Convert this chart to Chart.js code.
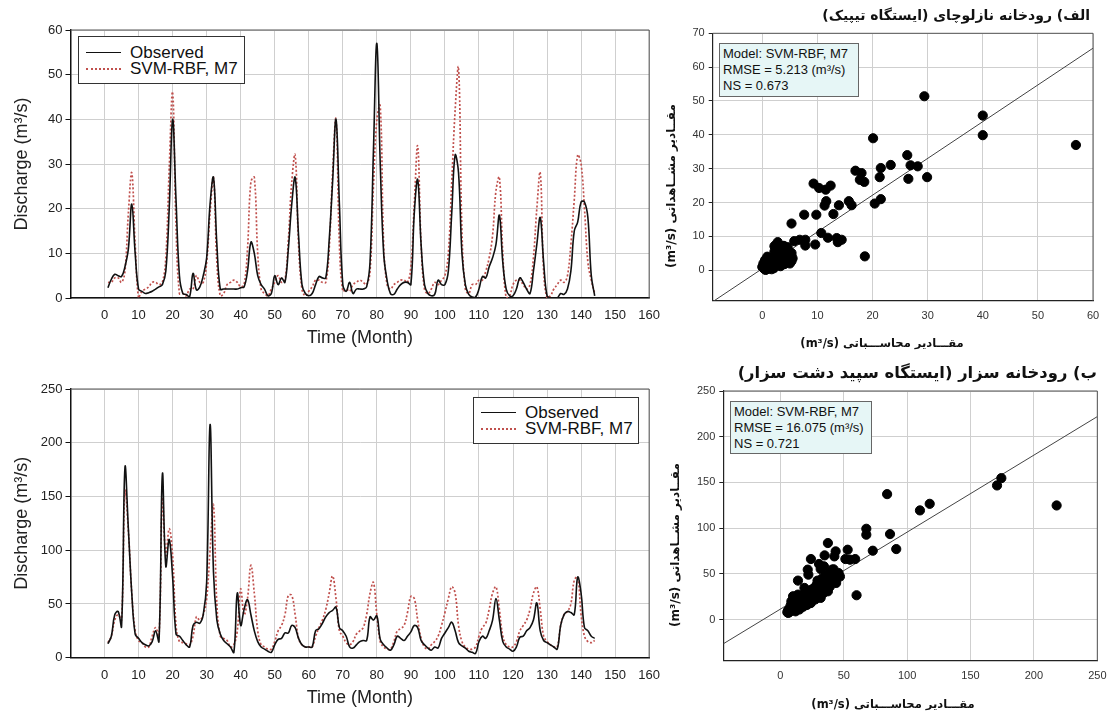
<!DOCTYPE html>
<html>
<head>
<meta charset="utf-8">
<script src="https://cdn.jsdelivr.net/npm/chart.js@4.4.1/dist/chart.umd.min.js"></script>
<style>
  body { margin: 0; background: #fff; width: 1115px; height: 713px; position: relative; overflow: hidden;
         font-family: "Liberation Sans", Arial, sans-serif; color: #111; }
  canvas { position: absolute; }
  .legend { position: absolute; background: #fff; border: 1px solid #333; font-size: 17px; }
  .legend .txt { position: absolute; left: 51px; white-space: nowrap; line-height: 18px; transform: translateY(-50%); }
  .legend .sw { position: absolute; left: 7px; width: 35px; }
  .sw.obs { border-top: 1.5px solid #111; }
  .sw.svm { border-top: 2px dotted #c0504d; }
  .note { position: absolute; background: #e6f6f6; border: 1px solid #666; font-size: 13px; line-height: 16px;
          padding: 2px 0 0 3px; box-sizing: border-box; white-space: nowrap; }
  .fa { position: absolute; font-family: "DejaVu Sans", sans-serif; font-weight: bold; white-space: nowrap; direction: rtl; }
  .fa.rot { transform: translate(-50%, -50%) rotate(-90deg); }
  .fa.ctr { transform: translate(-50%, -50%); }
</style>
</head>
<body>
<canvas id="nazTime" width="670" height="350" style="left:0;top:0"></canvas>
<canvas id="sezTime" width="670" height="353" style="left:0;top:360px"></canvas>
<canvas id="nazScatter" width="455" height="360" style="left:660px;top:0"></canvas>
<canvas id="sezScatter" width="455" height="358" style="left:660px;top:355px"></canvas>

<div class="legend" style="left:78px;top:36px;width:165px;height:46px">
  <div class="sw obs" style="top:15px"></div><div class="txt" style="top:16px">Observed</div>
  <div class="sw svm" style="top:31px"></div><div class="txt" style="top:32px">SVM-RBF, M7</div>
</div>
<div class="legend" style="left:473px;top:397px;width:164px;height:45px">
  <div class="sw obs" style="top:14px"></div><div class="txt" style="top:15px">Observed</div>
  <div class="sw svm" style="top:30px"></div><div class="txt" style="top:31px">SVM-RBF, M7</div>
</div>

<div class="note" style="left:719px;top:43px;width:140px;height:54px">Model: SVM-RBF, M7<br>RMSE = 5.213 (m³/s)<br>NS = 0.673</div>
<div class="note" style="left:730px;top:401px;width:142px;height:53px">Model: SVM-RBF, M7<br>RMSE = 16.075 (m³/s)<br>NS = 0.721</div>

<div class="fa" style="right:25px;top:7px;font-size:14px">الف) رودخانه نازلوچای (ایستگاه تیپیک)</div>
<div class="fa" style="right:18px;top:363px;font-size:16.4px">ب) رودخانه سزار (ایستگاه سپید دشت سزار)</div>
<div class="fa ctr" style="left:882px;top:343px;font-size:11.5px">مقـــادیر محاســـباتی (m³/s)</div>
<div class="fa ctr" style="left:893px;top:704px;font-size:11.5px">مقـــادیر محاســـباتی (m³/s)</div>
<div class="fa rot" style="left:671px;top:186px;font-size:12px">مقــادیر مشــاهداتی (m³/s)</div>
<div class="fa rot" style="left:675px;top:545px;font-size:12px">مقــادیر مشــاهداتی (m³/s)</div>

<script>
// months 1..144
const months = Array.from({ length: 144 }, (_, i) => i + 1);

// Nazluchay river (Tapik station)
const nazObs = [
  2.3, 4.2, 5.3, 5.0, 4.8, 7.0, 11, 21, 10, 2, 1.5, 1.0,
  1.2, 1.5, 2.0, 2.5, 3.0, 6, 20, 40, 22, 5, 1, 0.8,
  0.3, 5.5, 1.8, 2.5, 5, 9, 21, 27, 12, 2, 2, 2,
  2, 2, 2, 2.3, 2.5, 6, 12.5, 10, 5, 3, 2, 0.5,
  1.0, 5, 3, 4.5, 3.5, 11, 21, 27, 14, 3, 1, 0.5,
  1, 3, 4.8, 4.5, 4.5, 13, 26, 40, 21, 3, 1.5, 3.5,
  1, 2, 2, 2, 2.5, 8, 33, 57, 30, 10, 4, 1,
  0.8, 2, 3, 3.5, 3.5, 3, 19, 26.5, 12, 3, 1, 0.5,
  0.8, 4, 3, 3, 6, 19, 32, 28, 10, 3, 0.8, 0.2,
  0.2, 2, 4.8, 4.5, 7, 9, 12, 18.5, 8, 2, 0.5, 0.5,
  2, 4.5, 3.5, 2, 1, 6, 12, 18, 8, 0.5, 0, 0,
  0, 1, 0.8, 2, 6, 15, 17, 21.5, 21.5, 18, 5, 0.5
];
const nazSvm = [
  3.5, 3.5, 4.5, 4.5, 3.5, 6, 19, 28, 12, 0, 1.5, 2,
  2.5, 3.5, 3.5, 3, 3.5, 9, 29, 46, 16, 1, 1, 0.5,
  2, 2, 5, 3.5, 3.5, 8, 19, 27, 8, 0.5, 1, 3,
  3.5, 4, 3.5, 2.5, 3, 11, 26, 27, 10, 2, 1, 0.5,
  2, 3.5, 5, 3.5, 4, 13, 26, 32, 12, 2, 0.5, 1.5,
  2.5, 4, 4, 3.5, 3.5, 11, 28, 40, 12, 1.5, 2, 1.5,
  3, 3.5, 4, 3.5, 3, 6, 25, 40, 43, 12, 3, 2,
  3, 3.5, 4, 4, 3.5, 7, 21, 34, 12, 2, 1, 2,
  3.5, 3, 4, 5, 10, 26, 42, 51.5, 15, 2, 1, 3,
  3, 4, 4, 6, 9, 14, 24, 27, 10, 0, 0.5, 3,
  4, 4, 3, 2, 3, 9, 20, 28, 6, 0, 0.5, 2,
  3, 4, 3.5, 5, 12, 22, 32, 30, 20, 8, 4, 1
];

// Sezar river (Sepid Dasht Sezar station)
const sezObs = [
  13, 20, 40, 43, 29, 177, 120, 60, 22, 18, 14, 12,
  11, 15, 25, 15, 171, 85, 110, 75, 22, 20, 16, 12,
  10, 30, 33, 32, 40, 70, 217, 80, 35, 22, 16, 13,
  10, 5, 60, 30, 45, 54, 40, 25, 15, 10, 8, 6,
  5, 12, 17, 18, 23, 23, 30, 28, 18, 12, 10, 10,
  10, 25, 27, 32, 38, 42, 44, 47, 28, 25, 20, 10,
  9, 12, 15, 16, 16, 38, 35, 39, 17, 12, 9, 7,
  12, 20, 18, 16, 20, 24, 30, 28, 16, 12, 9, 7,
  10, 9, 18, 23, 28, 33, 25, 14, 11, 9, 6, 5,
  4, 15, 20, 18, 25, 35, 55, 35, 15, 10, 8, 6,
  10, 19, 20, 25, 28, 35, 51, 25, 16, 14, 12, 10,
  8, 30, 40, 43, 42, 40, 75, 60, 28, 25, 20, 18
];
const sezSvm = [
  14, 20, 35, 40, 35, 155, 118, 60, 25, 16, 14, 10,
  10, 20, 28, 20, 148, 95, 120, 95, 30, 15, 14, 13,
  12, 20, 38, 35, 40, 55, 100, 142, 50, 20, 18, 16,
  10, 12, 25, 64, 40, 55, 86, 60, 25, 12, 10, 8,
  8, 15, 25, 30, 40, 58, 58, 40, 18, 12, 10, 10,
  10, 20, 28, 35, 45, 60, 76, 55, 25, 20, 14, 12,
  15, 22, 25, 28, 40, 60, 70, 40, 15, 10, 8, 8,
  15, 25, 27, 30, 42, 57, 55, 35, 18, 10, 8, 12,
  15, 20, 30, 42, 55, 66, 60, 30, 15, 10, 8, 8,
  10, 20, 28, 32, 45, 60, 66, 45, 20, 12, 10, 10,
  15, 25, 30, 35, 45, 60, 66, 45, 20, 15, 12, 10,
  10, 30, 40, 43, 50, 72, 75, 40, 20, 15, 14, 16
];

// scatter: computed (x) vs observed (y)
const nazScX = [56.9, 29.4, 40.0, 40.0, 20.1, 26.3, 23.3, 26.9, 28.2, 21.5, 16.9, 18.0, 17.7, 18.5, 21.3, 26.5, 29.9,
  9.3, 10.3, 11.5, 12.4, 11.6, 11.3, 15.7, 16.2, 13.9, 21.5, 20.4, 12.9, 9.8, 7.6, 5.3, 10.7, 11.9, 13.5, 14.4, 13.7,
  9.6, 7.8, 7.8, 6.8, 5.8, 18.6, 2.8, 3.8, 2.2, 5.3, 5.3, 4.7,
  0, 0.2, 0.3, 0.5, 0.5, 0.7, 0.8, 1, 1, 1.2, 1.2, 1.5, 1.5, 1.7, 1.8, 2, 2, 2.2, 2.3, 2.5, 2.5, 2.7, 2.8, 3, 3, 3.2,
  3.3, 3.5, 3.5, 3.7, 3.8, 4, 4, 4.2, 4.4, 4.5, 4.7, 5, 5, 5.2, 5.3, 0.1, 0.6, 1.3, 2.1, 0.9, 3.9, 4.6, 5.5, 2.4];
const nazScY = [37.0, 51.4, 45.7, 39.9, 39.0, 34.0, 31.1, 31.0, 30.7, 30.2, 29.4, 28.7, 26.7, 26.1, 27.5, 27.0, 27.5,
  25.6, 24.3, 23.8, 25.0, 20.4, 19.1, 20.4, 19.2, 19.2, 21.0, 19.7, 16.6, 16.4, 16.4, 13.8, 11.0, 9.6, 9.5, 9.0, 8.3,
  7.6, 9.0, 7.3, 9.0, 8.6, 4.1, 8.3, 7.1, 7.1, 5.1, 2.7, 4.1,
  1, 2, 0.5, 1.5, 3, 0.3, 2.5, 1, 3.5, 0.5, 2, 1.2, 3, 0.3, 2.2, 1, 4, 5.5, 2.5, 1.5, 3.5, 6.5, 4.5, 2, 3, 5,
  1.2, 4, 2.5, 6, 3.2, 1.8, 4.5, 3, 5, 2.3, 3.8, 4.5, 2, 3, 4.2, 0.8, 0.1, 1.8, 0.6, 4.0, 7.2, 6.8, 3.5, 7.4];

const sezScX = [217.9, 174.3, 170.9, 117.8, 110.1, 84.2, 67.8, 67.8, 86.5, 91.4, 72.9, 60.1, 53.1, 51.3, 59.0, 54.9,
  37.5, 43.6, 42.6, 34.9, 24.1, 30.5, 31.8, 34.4, 21.6, 22.1, 13.9, 40.8, 42.1, 45.9, 44.7, 39.5, 37.0, 29.3, 28.7,
  26.7, 32.3, 37.5, 31.8, 24.1, 19.0, 13.9, 19.0, 24.1, 8.7, 8.7, 6.2, 13.9, 20.3, 26.7, 10.0, 15.1,
  6, 7, 8, 9, 10, 11, 12, 13, 14, 15, 16, 17, 18, 19, 20, 21, 22, 23, 24, 25, 26, 27, 28, 29, 30, 31, 33, 35, 36, 38, 40, 42,
  5.5, 7.5, 9.5, 11.5, 13, 15.5, 17.5, 19.5, 21.5, 23.5, 25.5, 27.5, 29.5, 31.5, 34, 36.5, 39, 41, 44, 47];
const sezScY = [124.8, 154.7, 146.7, 126.6, 119.4, 137.2, 99.3, 92.8, 93.5, 77.1, 75.3, 26.6, 76.4, 66.2, 66.2, 65.5,
  83.7, 74.6, 69.1, 70.2, 66.2, 60.8, 55.3, 58.2, 54.6, 49.1, 42.6, 54.6, 49.1, 50.9, 45.5, 41.8, 38.2, 42.6, 38.2,
  34.6, 32.8, 30.9, 23.7, 27.3, 34.6, 27.3, 20.0, 18.2, 20.0, 12.7, 7.3, 14.6, 25.5, 27.3, 25.5, 20.0,
  10, 8, 15, 18, 12, 20, 9, 16, 22, 11, 18, 25, 14, 28, 20, 16, 30, 24, 19, 33, 22, 28, 36, 26, 40, 30, 45, 38, 48, 50, 46, 55,
  8, 12, 10, 14, 19, 13, 21, 16, 24, 18, 26, 22, 31, 35, 29, 42, 36, 44, 40, 47];

// fitted lines (end points)
const nazFitX = [-9, 60], nazFitY = [-9.3, 65.6];
const sezFitX = [-45, 250], sezFitY = [-26.5, 222];

// tick labels
const timeTicks = [0, 10, 20, 30, 40, 50, 60, 70, 80, 90, 100, 110, 120, 130, 140, 150, 160];
const nazTimeY = [0, 10, 20, 30, 40, 50, 60];
const sezTimeY = [0, 50, 100, 150, 200, 250];
const nazScTicksX = [0, 10, 20, 30, 40, 50, 60];
const nazScTicksY = [0, 10, 20, 30, 40, 50, 60, 70];
const sezScTicks = [0, 50, 100, 150, 200, 250];

const framePlugin = {
  id: 'frame',
  afterDraw(chart) {
    const { ctx, chartArea: a } = chart;
    ctx.save();
    ctx.strokeStyle = '#555';
    ctx.lineWidth = 1;
    ctx.beginPath();
    ctx.moveTo(a.left, a.top);
    ctx.lineTo(a.right, a.top);
    ctx.lineTo(a.right, a.bottom);
    ctx.stroke();
    ctx.restore();
  }
};

const pts = (xs, ys) => xs.map((x, i) => ({ x: x, y: ys[i] }));
const fixTicks = arr => s => { s.ticks = arr.map(v => ({ value: v })); };

function timeChart(id, obs, svm, yMax, yTicks, pad, xH, titlePadX) {
  return new Chart(document.getElementById(id), {
    type: 'line',
    data: {
      datasets: [
        { label: 'Observed', data: pts(months, obs), borderColor: '#111', borderWidth: 1.6,
          pointRadius: 0, tension: 0.4, order: 1 },
        { label: 'SVM-RBF, M7', data: pts(months, svm), borderColor: '#c0504d', borderWidth: 1.7,
          borderDash: [2, 2], pointRadius: 0, tension: 0.4, order: 2 }
      ]
    },
    options: {
      responsive: false, animation: false, devicePixelRatio: 1,
      layout: { padding: pad },
      plugins: { legend: { display: false }, tooltip: { enabled: false } },
      scales: {
        x: {
          type: 'linear', min: -10, max: 160,
          afterBuildTicks: fixTicks(timeTicks),
          afterFit: s => { s.height = xH; },
          grid: { color: '#cfcfcf', drawTicks: false },
          border: { color: '#111', width: 1.5 },
          ticks: { padding: 10, color: '#222', font: { family: 'Liberation Sans', size: 13 } },
          title: { display: true, text: 'Time (Month)', color: '#222', padding: { top: 0, bottom: titlePadX },
                   font: { family: 'Liberation Sans', size: 18 } }
        },
        y: {
          min: 0, max: yMax,
          afterBuildTicks: fixTicks(yTicks),
          afterFit: s => { s.width = 70.5; },
          grid: { color: '#cfcfcf', tickColor: '#111', tickLength: 5 },
          border: { color: '#111', width: 1.5 },
          ticks: { padding: 3, color: '#222', font: { family: 'Liberation Sans', size: 13 } },
          title: { display: true, text: 'Discharge (m³/s)', color: '#222', padding: { top: 11, bottom: 0 },
                   font: { family: 'Liberation Sans', size: 18 } }
        }
      }
    },
    plugins: [framePlugin]
  });
}

function scatterChart(id, xs, ys, fx, fy, min, maxX, maxY, ticksX, ticksY, pad, yW, xH, tickPad) {
  return new Chart(document.getElementById(id), {
    type: 'scatter',
    data: {
      datasets: [
        { data: pts(xs, ys), backgroundColor: '#000', borderColor: '#000', pointRadius: 4.6, order: 1 },
        { data: pts(fx, fy), showLine: true, borderColor: '#444', borderWidth: 1, pointRadius: 0, order: 2 }
      ]
    },
    options: {
      responsive: false, animation: false, devicePixelRatio: 1,
      layout: { padding: pad },
      plugins: { legend: { display: false }, tooltip: { enabled: false } },
      scales: {
        x: {
          min: min, max: maxX,
          afterBuildTicks: fixTicks(ticksX),
          afterFit: s => { s.height = xH; },
          grid: { color: '#cfcfcf', drawTicks: false },
          border: { color: '#222', width: 1.2 },
          ticks: { padding: tickPad, color: '#333', font: { family: 'Liberation Sans', size: 11 } }
        },
        y: {
          min: min, max: maxY,
          afterBuildTicks: fixTicks(ticksY),
          afterFit: s => { s.width = yW; },
          grid: { color: '#cfcfcf', tickColor: '#222', tickLength: 4 },
          border: { color: '#222', width: 1.2 },
          ticks: { padding: 4, color: '#333', font: { family: 'Liberation Sans', size: 11 } }
        }
      }
    },
    plugins: [framePlugin]
  });
}

timeChart('nazTime', nazObs, nazSvm, 60, nazTimeY, { left: 0, top: 30, right: 19, bottom: 0 }, 52, 1);
timeChart('sezTime', sezObs, sezSvm, 250, sezTimeY, { left: 0, top: 29, right: 19, bottom: 0 }, 55.3, 4);
scatterChart('nazScatter', nazScX, nazScY, nazFitX, nazFitY, -9, 60, 70, nazScTicksX, nazScTicksY,
  { left: 0, top: 33.3, right: 22, bottom: 0 }, 52.7, 59.3, 9);
scatterChart('sezScatter', sezScX, sezScY, sezFitX, sezFitY, -45, 250, 250, sezScTicks, sezScTicks,
  { left: 0, top: 36, right: 8.3, bottom: 0 }, 63.3, 52.3, 8.5);
</script>
</body>
</html>
